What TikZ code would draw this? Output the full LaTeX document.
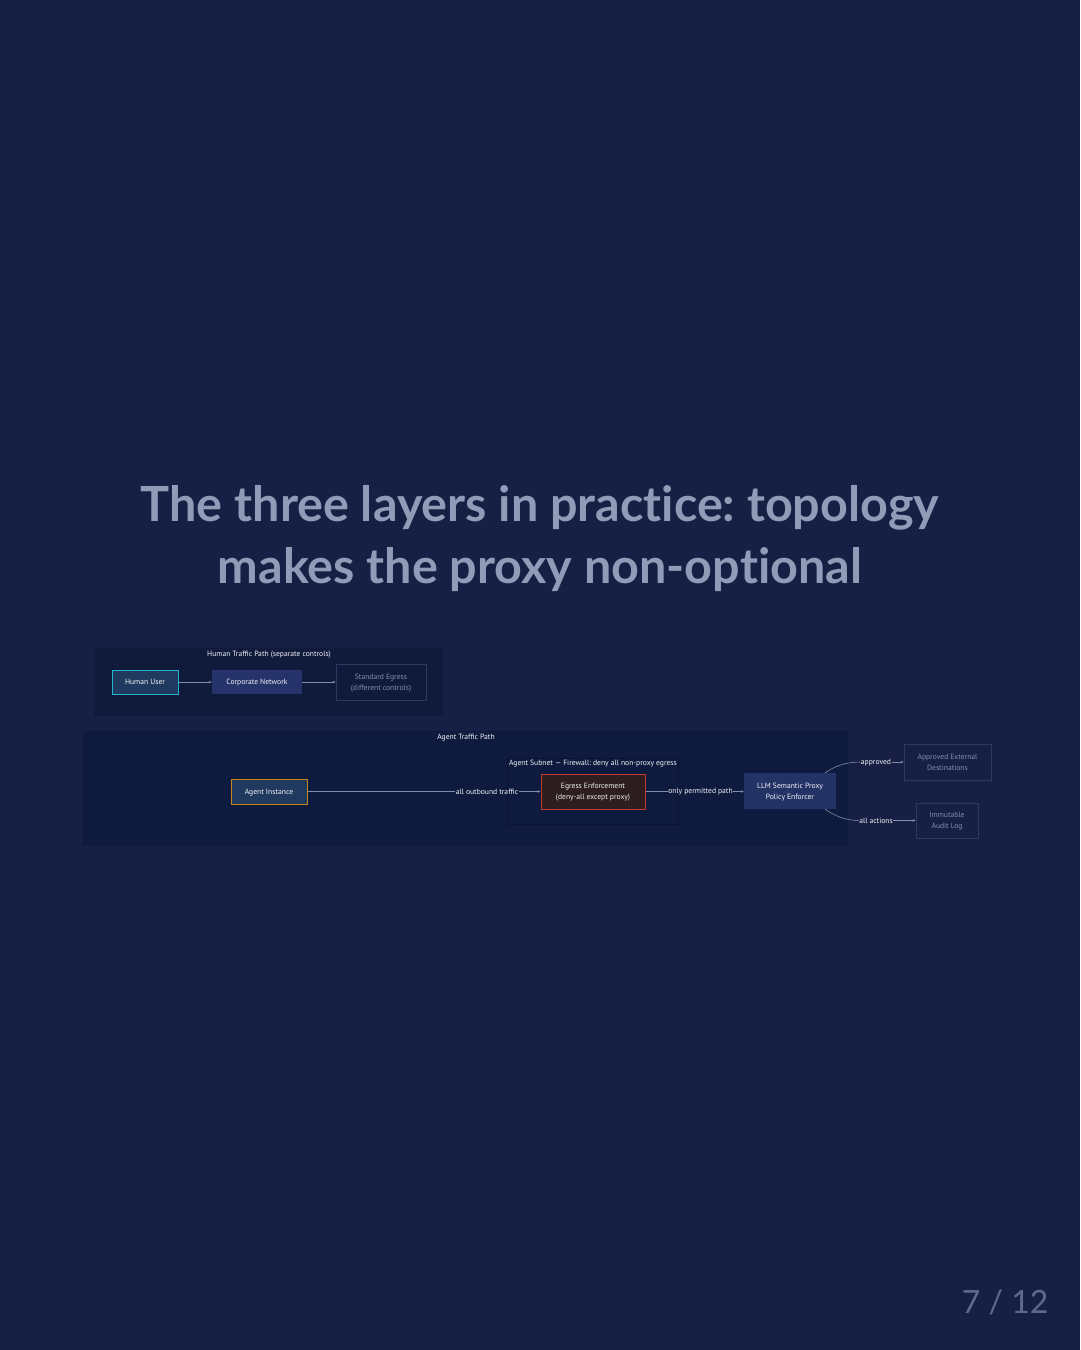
\documentclass[tikz,border=0pt]{standalone}
\usepackage{fontspec}
\setmainfont{PT Sans}
\newfontfamily\titlefont[Ligatures={NoCommon,NoRequired,NoContextual}]{Lato}
\usetikzlibrary{arrows.meta,positioning,calc}
\frenchspacing
\definecolor{pagebg}{HTML}{172044}
\definecolor{contbg}{HTML}{101A3B}
\definecolor{agentbg}{HTML}{0F1B3E}
\definecolor{titlecol}{HTML}{8E9CB8}
\definecolor{pagenum}{HTML}{5C6A8E}
\definecolor{edgecol}{HTML}{7F8DAE}
\definecolor{txt}{HTML}{F2F4F8}
\definecolor{dimtxt}{HTML}{8690AC}
\definecolor{dimborder}{HTML}{2C3A63}
\definecolor{humanfill}{HTML}{1F3A5E}
\definecolor{humanborder}{HTML}{22B5CC}
\definecolor{corpfill}{HTML}{25336A}
\definecolor{agentfill}{HTML}{1F3A5E}
\definecolor{agentborder}{HTML}{C8861A}
\definecolor{egressfill}{HTML}{2E1E20}
\definecolor{egressborder}{HTML}{C0392B}
\definecolor{proxyfill}{HTML}{243366}
\definecolor{subnetborder}{HTML}{0A1330}
\tikzset{
  box/.style={draw=none, inner sep=0pt, align=center, text=txt, text depth=0pt, font=\fontsize{7.6}{11}\selectfont},
  dimbox/.style={box, draw=dimborder, line width=0.8pt, text=dimtxt},
  edge/.style={draw=edgecol, line width=0.6pt},
  arr/.style={edge, -{Stealth[length=3pt,width=2.5pt]}},
  lbl/.style={inner sep=0.5pt, text=txt, font=\fontsize{7.6}{11}\selectfont},
  conttitle/.style={inner sep=0pt, text=txt, font=\fontsize{7.6}{11}\selectfont},
}
\begin{document}
\begin{tikzpicture}[x=1pt,y=-1pt]
\fill[pagebg] (0,0) rectangle (1080,1350);
\useasboundingbox (0,0) rectangle (1080,1350);
% title
\node[titlecol, align=center, font=\titlefont\bfseries\fontsize{48.5}{62}\selectfont] (title) at (540,539)
  {The three layers in practice: topology\\makes the proxy non-optional};
% page number
\node[pagenum, anchor=east, font=\titlefont\fontsize{32}{36}\selectfont] (pnum) at (1052,1302) {7 / 12};

% human container
\node[fill=contbg, minimum width=349pt, minimum height=68pt, inner sep=0pt] (humancont) at (268.5,682) {};
\node[conttitle] (humantitle) at (269,655) {Human Traffic Path (separate controls)};
\node[box, fill=humanfill, draw=humanborder, line width=1pt, minimum width=66pt, minimum height=24pt] (human) at (145,682) {Human User};
\node[box, fill=corpfill, minimum width=90pt, minimum height=24pt] (corp) at (257,682) {Corporate Network};
\node[dimbox, minimum width=90pt, minimum height=36pt] (stdeg) at (381,682) {Standard Egress\\(different controls)};
\draw[arr] (human.east) -- (corp.west);
\draw[arr] (corp.east) -- (stdeg.west);

% agent container
\node[fill=agentbg, minimum width=765pt, minimum height=115pt, inner sep=0pt] (agentcont) at (465.5,788.5) {};
\node[conttitle] (agenttitle) at (466,738) {Agent Traffic Path};
% subnet
\node[draw=subnetborder, line width=0.8pt, fill=agentbg, minimum width=171pt, minimum height=66pt, inner sep=0pt] (subnet) at (592.5,791) {};
\node[conttitle] (subnettitle) at (593,764) {Agent Subnet — Firewall: deny all non-proxy egress};

\node[box, fill=agentfill, draw=agentborder, line width=1pt, minimum width=76pt, minimum height=25pt] (agent) at (269,791.5) {Agent Instance};
\node[box, fill=egressfill, draw=egressborder, line width=1pt, minimum width=104pt, minimum height=35pt] (egress) at (593,791.5) {Egress Enforcement\\(deny-all except proxy)};
\node[box, fill=proxyfill, minimum width=92pt, minimum height=36pt] (proxy) at (790,791) {LLM Semantic Proxy\\Policy Enforcer};
\node[dimbox, minimum width=87pt, minimum height=36pt] (approved) at (947.5,762) {Approved External\\Destinations};
\node[dimbox, minimum width=62pt, minimum height=35pt] (audit) at (947,820.5) {Immutable\\Audit Log};

% edges
\node[lbl] (l1) at (487,792) {all outbound traffic};
\draw[edge] (agent.east) -- (agent.east -| l1.west);
\draw[arr] (l1.east |- egress.west) -- (egress.west);
\node[lbl] (l2) at (700.5,792) {only permitted path};
\draw[edge] (egress.east) -- (egress.east -| l2.west);
\draw[arr] (l2.east |- egress.east) -- (egress.east -| proxy.west);
\node[lbl] (l3) at (876,762.5) {approved};
\draw[edge] ($(proxy.north east)+(-11,0)$) .. controls (833,767) and (845,762) .. (approved.west -| l3.west);
\draw[arr] (l3.east |- approved.west) -- (approved.west);
\node[lbl] (l4) at (876,821) {all actions};
\draw[edge] ($(proxy.south east)+(-11,0)$) .. controls (833,815) and (845,820.5) .. (audit.west -| l4.west);
\draw[arr] (l4.east |- audit.west) -- (audit.west);
\end{tikzpicture}
\end{document}
